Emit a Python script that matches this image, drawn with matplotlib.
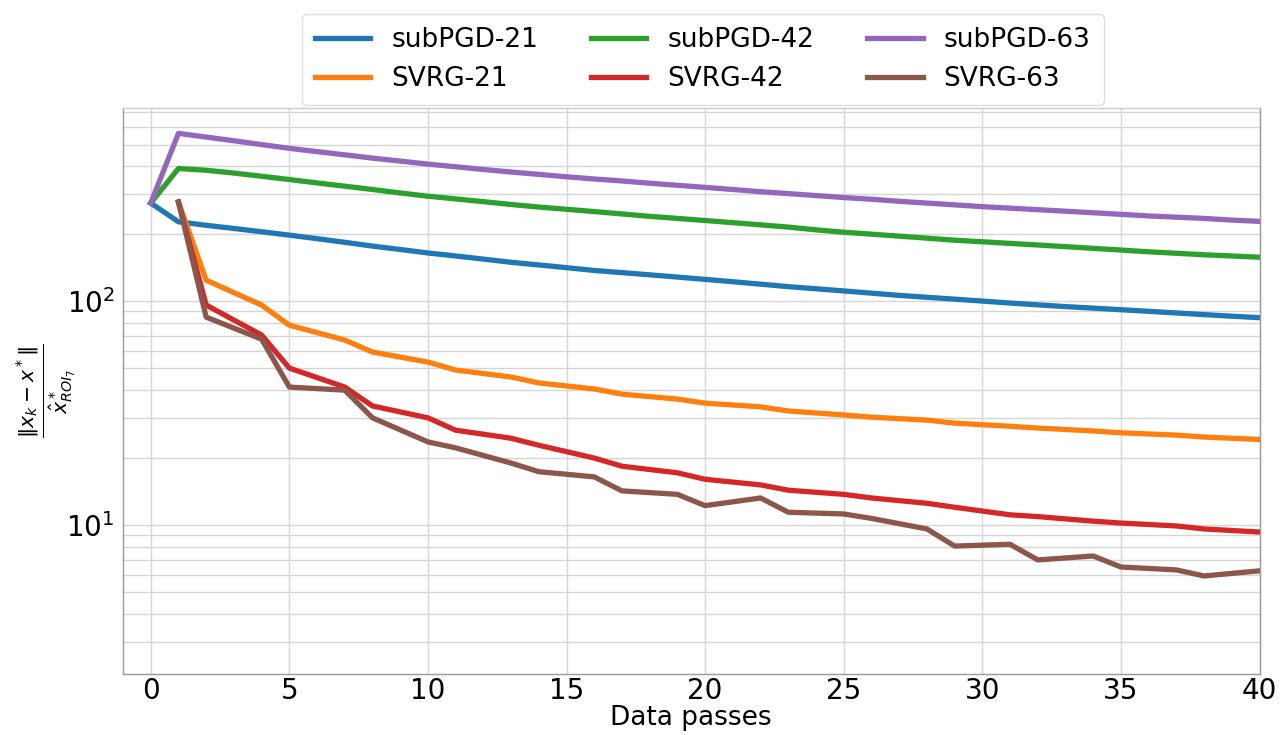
import matplotlib
matplotlib.use("Agg")
import matplotlib.pyplot as plt
from matplotlib.ticker import LogLocator, NullFormatter

# Data passes for the subgradient runs (one point per pass)
pgd_passes = list(range(0, 41))

subpgd_21 = [274, 226, 218, 211, 204, 197, 190, 183, 176, 170, 164, 159, 154, 149, 145,
             141, 137, 134, 131, 128, 125, 122, 119, 116, 113.5, 111, 108.5, 106, 104,
             102, 100, 98, 96.2, 94.5, 93, 91.5, 90, 88.5, 87, 85.6, 84.3]
subpgd_42 = [274, 391, 384, 373, 361, 349, 337, 326, 315, 304, 294, 286, 278, 270, 263,
             257, 251, 245, 239, 234, 229, 224, 219, 214, 208, 203, 199, 195, 191, 187,
             184, 181, 178, 175, 172, 169, 166, 163.5, 161, 159, 157]
subpgd_63 = [274, 561, 540, 520, 500, 481, 465, 450, 435, 422, 409, 398, 387, 377, 368,
             359, 351, 344, 336, 329, 322, 315, 308, 302, 296, 290, 285, 279, 274, 269,
             264, 260, 256, 252, 248, 244, 240, 237, 234, 230, 227]

# Data passes at which the SVRG iterates were recorded
svrg_passes = [1, 2, 4, 5, 7, 8, 10, 11, 13, 14, 16, 17, 19, 20, 22, 23, 25, 26, 28, 29,
               31, 32, 34, 35, 37, 38, 40, 41]

svrg_21 = [277, 124, 96, 78, 67, 59.2, 53.4, 49.2, 45.8, 43.1, 40.5, 38.4, 36.5, 35.0,
           33.7, 32.3, 31.0, 30.3, 29.4, 28.5, 27.6, 27.1, 26.3, 25.8, 25.2, 24.7, 24.1, 23.9]
svrg_42 = [277, 96, 70.5, 50.2, 41.3, 34.0, 30.1, 26.5, 24.4, 22.7, 19.9, 18.3, 17.1, 16.0,
           15.1, 14.3, 13.7, 13.2, 12.5, 12.0, 11.1, 10.9, 10.4, 10.2, 9.9, 9.6, 9.3, 9.2]
svrg_63 = [277, 84.8, 67.6, 41.3, 40.0, 30.1, 23.5, 22.1, 18.9, 17.3, 16.4, 14.2, 13.7, 12.2,
           13.2, 11.4, 11.2, 10.7, 9.6, 8.05, 8.2, 6.98, 7.27, 6.49, 6.30, 5.92, 6.24, 5.8]

fig = plt.figure(figsize=(12.8, 7.35), dpi=100)
ax = fig.add_axes([0.0961, 0.083, 0.8879, 0.770])

lw = 3.8
ax.plot(pgd_passes, subpgd_21, color="#1f77b4", lw=lw, label="subPGD-21")
ax.plot(svrg_passes, svrg_21, color="#ff7f0e", lw=lw, label="SVRG-21")
ax.plot(pgd_passes, subpgd_42, color="#2ca02c", lw=lw, label="subPGD-42")
ax.plot(svrg_passes, svrg_42, color="#d62728", lw=lw, label="SVRG-42")
ax.plot(pgd_passes, subpgd_63, color="#9467bd", lw=lw, label="subPGD-63")
ax.plot(svrg_passes, svrg_63, color="#8c564b", lw=lw, label="SVRG-63")

ax.set_yscale("log")
ax.set_xlim(-1, 40)
ax.set_ylim(2.16, 728)
ax.set_xticks(range(0, 41, 5))
ax.yaxis.set_minor_locator(LogLocator(base=10, subs=range(2, 10)))
ax.yaxis.set_minor_formatter(NullFormatter())

ax.grid(True, which="major", color="#d5d5d5", lw=1.0)
ax.grid(True, which="minor", axis="y", color="#d5d5d5", lw=1.0)
ax.set_axisbelow(True)

for side in ["left", "bottom", "right", "top"]:
    ax.spines[side].set_color("#999999")
    ax.spines[side].set_linewidth(1.0)
ax.spines["top"].set_color("#cccccc")

ax.tick_params(axis="x", which="both", length=0, labelsize=20, pad=2)
ax.tick_params(axis="y", which="both", length=0, labelsize=20, pad=6)

ax.set_xlabel("Data passes", fontsize=19, labelpad=0)
ax.set_ylabel(r"$\frac{\|x_k - x^*\|}{\hat{x}_{ROI_7}^*}$", fontsize=21)
ax.yaxis.set_label_coords(-0.04, 0.5)

ax.legend(loc="upper center", bbox_to_anchor=(0.51, 1.19), ncol=3, fontsize=19,
          frameon=True, fancybox=True, edgecolor="#dddddd", framealpha=1.0,
          handlelength=2.1, columnspacing=2.0, borderpad=0.5, labelspacing=0.5)

fig.savefig("out.png", dpi=100)
